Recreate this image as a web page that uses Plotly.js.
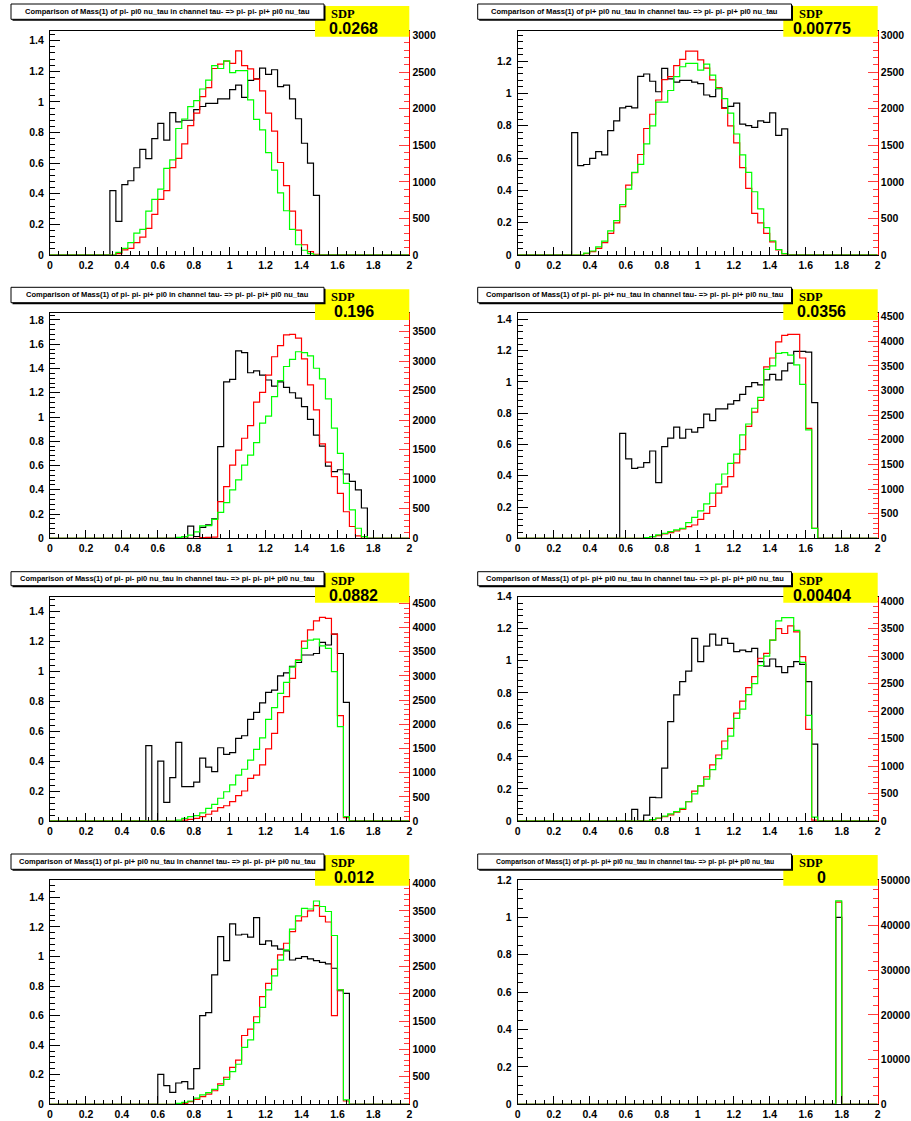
<!DOCTYPE html>
<html><head><meta charset="utf-8">
<script src="https://cdn.plot.ly/plotly-3.0.1.min.js"></script>
<style>html,body{margin:0;padding:0;background:#fff;}#chart{width:911px;height:1121px;}</style>
</head><body><div id="chart"></div>
<script>
// ---- binning: 60 bins of Mass(1) from 0 to 2 ----
const nBins = 60, massMin = 0, massMax = 2;

const panelTitles = [
  "Comparison of Mass(1) of pi- pi0 nu_tau in channel tau- => pi- pi- pi+ pi0 nu_tau",
  "Comparison of Mass(1) of pi+ pi0 nu_tau in channel tau- => pi- pi- pi+ pi0 nu_tau",
  "Comparison of Mass(1) of pi- pi- pi+ pi0 in channel tau- => pi- pi- pi+ pi0 nu_tau",
  "Comparison of Mass(1) of pi- pi- pi+ nu_tau in channel tau- => pi- pi- pi+ pi0 nu_tau",
  "Comparison of Mass(1) of pi- pi- pi0 nu_tau in channel tau- => pi- pi- pi+ pi0 nu_tau",
  "Comparison of Mass(1) of pi- pi+ pi0 nu_tau in channel tau- => pi- pi- pi+ pi0 nu_tau",
  "Comparison of Mass(1) of pi- pi+ pi0 nu_tau in channel tau- => pi- pi- pi+ pi0 nu_tau",
  "Comparison of Mass(1) of pi- pi- pi+ pi0 nu_tau in channel tau- => pi- pi- pi+ pi0 nu_tau"
];
const sdpValues = ["0.0268", "0.00775", "0.196", "0.0356", "0.0882", "0.00404", "0.012", "0"];

// ---- panel 1 ----
const p1Ratio = [0,0,0,0,0,0,0,0,0,0,
 0.42,0.22,0.46,0.485,0.57,0.69,0.63,0.76,0.86,0.75,
 0.93,0.87,0.88,0.88,0.95,0.97,0.99,0.99,1.02,1.02,
 1.08,1.11,1.03,1.14,1.15,1.22,1.18,1.21,1.10,1.11,
 1.02,0.89,0.73,0.60,0.39,0,0,0,0,0,
 0,0,0,0,0,0,0,0,0,0];
const p1Red = [0,0,0,0,0,0,0,0,0,0,
 0,20,70,90,170,245,365,555,760,880,
 1195,1320,1520,1770,1940,2165,2290,2550,2610,2650,
 2620,2790,2590,2545,2405,2245,1940,1695,1265,950,
 600,340,140,45,10,0,0,0,0,0,
 0,0,0,0,0,0,0,0,0,0];
const p1Green = [0,0,0,0,0,0,0,0,0,0,
 0,35,90,170,300,350,600,760,900,1185,
 1300,1730,1860,2030,2110,2270,2390,2590,2550,2655,
 2495,2520,2520,2120,1855,1710,1400,1160,850,605,
 350,140,65,20,0,0,0,0,0,0,
 0,0,0,0,0,0,0,0,0,0];

// ---- panel 2 ----
const p2Ratio = [0,0,0,0,0,0,0,0,0,0.757,
 0.553,0.56,0.598,0.64,0.62,0.77,0.83,0.91,0.92,0.91,
 1.105,1.12,1.075,1.01,1.155,1.09,1.07,1.08,1.08,1.07,
 1.06,0.99,0.98,1.03,0.91,0.92,0.94,0.81,0.80,0.79,
 0.83,0.82,0.88,0.74,0.78,0,0,0,0,0,
 0,0,0,0,0,0,0,0,0,0];
const p2Red = [0,0,0,0,0,0,0,0,0,0,
 0,20,45,90,170,295,440,660,955,1125,
 1375,1730,1925,2120,2400,2440,2590,2675,2790,2790,
 2670,2555,2395,2290,2005,1765,1535,1195,910,570,
 440,295,180,70,15,0,0,0,0,0,
 0,0,0,0,0,0,0,0,0,0];
const p2Green = [0,0,0,0,0,0,0,0,0,0,
 0,25,55,110,190,330,470,690,900,1130,
 1240,1520,1765,2090,2090,2250,2440,2575,2620,2620,
 2530,2610,2460,2280,2140,1940,1655,1370,1130,865,
 630,375,195,75,20,0,0,0,0,0,
 0,0,0,0,0,0,0,0,0,0];

// ---- panel 3 ----
const p3Ratio = [0,0,0,0,0,0,0,0,0,0,
 0,0,0,0,0,0,0,0,0,0,
 0,0,0,0.10,0.015,0.09,0.11,0.16,0.755,1.29,
 1.31,1.545,1.53,1.365,1.38,1.345,1.305,1.255,1.29,1.245,
 1.2,1.155,1.085,0.98,0.85,0.76,0.595,0.55,0.565,0.53,
 0.47,0.40,0.25,0,0,0,0,0,0,0];
const p3Red = [0,0,0,0,0,0,0,0,0,0,
 0,0,0,0,0,0,0,0,0,0,
 0,0,0,0,0,10,15,20,620,875,
 1240,1495,1695,1910,2305,2470,2765,3075,3265,3445,
 3455,3390,3040,2600,2175,1600,1290,1045,760,450,
 200,40,0,0,0,0,0,0,0,0];
const p3Green = [0,0,0,0,0,0,0,0,0,0,
 0,0,0,0,0,0,0,0,0,0,
 0,15,28,55,110,210,215,320,440,605,
 820,990,1240,1410,1620,1950,2070,2400,2670,2910,
 3030,3160,3145,3090,2880,2700,2360,1865,1440,930,
 480,170,28,0,0,0,0,0,0,0];

// ---- panel 4 ----
const p4Ratio = [0,0,0,0,0,0,0,0,0,0,
 0,0,0,0,0,0,0,0.67,0.507,0.447,
 0.454,0.484,0.558,0.356,0.586,0.64,0.71,0.64,0.697,0.678,
 0.707,0.793,0.752,0.827,0.827,0.857,0.88,0.92,0.97,0.995,
 0.98,1.012,1.048,1.012,1.07,1.12,1.195,1.195,1.19,0.867,
 0,0,0,0,0,0,0,0,0,0];
const p4Red = [0,0,0,0,0,0,0,0,0,0,
 0,0,0,0,0,0,0,0,0,0,
 0,15,35,55,90,115,150,190,235,270,
 385,505,645,915,1045,1250,1530,1800,2270,2560,
 2800,3480,3660,3985,4120,4140,4140,3660,2230,200,
 0,0,0,0,0,0,0,0,0,0];
const p4Green = [0,0,0,0,0,0,0,0,0,0,
 0,0,0,0,0,0,0,0,0,0,
 0,15,35,70,100,135,170,200,320,425,
 555,700,915,1100,1305,1520,1710,2100,2320,2640,
 2860,3430,3500,3755,3770,3720,3520,3125,2200,200,
 0,0,0,0,0,0,0,0,0,0];

// ---- panel 5 ----
const p5Ratio = [0,0,0,0,0,0,0,0,0,0,
 0,0,0,0,0,0,0.504,0,0.40,0.125,
 0.29,0.526,0.23,0.23,0.26,0.42,0.36,0.33,0.49,0.445,
 0.457,0.553,0.57,0.68,0.727,0.79,0.86,0.875,0.97,0.99,
 1.035,1.06,1.11,1.11,1.12,1.195,1.177,1.25,1.12,0.793,
 0,0,0,0,0,0,0,0,0,0];
const p5Red = [0,0,0,0,0,0,0,0,0,0,
 0,0,0,0,0,0,0,0,0,0,
 0,0,20,35,55,90,140,205,275,315,
 400,525,620,880,950,1160,1490,1810,2240,2570,
 2950,3330,3720,3950,4140,4210,4190,3865,2180,70,
 0,0,0,0,0,0,0,0,0,0];
const p5Green = [0,0,0,0,0,0,0,0,0,0,
 0,0,0,0,0,0,0,0,0,0,
 0,20,55,90,110,170,260,345,470,605,
 745,950,1070,1260,1480,1720,2100,2345,2640,2865,
 3180,3315,3570,3740,3760,3620,3570,3090,1950,90,
 0,0,0,0,0,0,0,0,0,0];

// ---- panel 6 ----
const p6Ratio = [0,0,0,0,0,0,0,0,0,0,
 0,0,0,0,0,0,0,0,0,0.073,
 0,0.037,0.148,0.145,0.33,0.62,0.787,0.87,0.936,1.14,
 0.995,1.092,1.167,1.098,1.14,1.109,1.057,1.067,1.057,1.078,
 0.995,0.967,1.011,0.963,0.926,0.963,0.995,0.978,0.87,0.48,
 0,0,0,0,0,0,0,0,0,0];
const p6Red = [0,0,0,0,0,0,0,0,0,0,
 0,0,0,0,0,0,0,0,0,0,
 0,0,18,50,80,110,160,210,350,545,
 640,805,1020,1200,1455,1685,1960,2180,2425,2625,
 2960,3050,3290,3500,3410,3550,3440,2990,1665,15,
 0,0,0,0,0,0,0,0,0,0];
const p6Green = [0,0,0,0,0,0,0,0,0,0,
 0,0,0,0,0,0,0,0,0,0,
 0,0,25,55,90,130,170,230,350,495,
 640,760,935,1135,1310,1545,1865,2035,2300,2500,
 2825,3000,3290,3640,3700,3700,3465,2885,1920,70,
 0,0,0,0,0,0,0,0,0,0];

// ---- panel 7 ----
const p7Ratio = [0,0,0,0,0,0,0,0,0,0,
 0,0,0,0,0,0,0,0,0.203,0.126,
 0.081,0.144,0.153,0.104,0.241,0.60,0.62,0.875,1.134,0.972,
 1.22,1.145,1.15,1.13,1.262,1.082,1.105,1.071,1.05,1.037,
 0.976,0.987,0.999,0.983,0.972,0.96,0.95,0.92,0.768,0.75,
 0,0,0,0,0,0,0,0,0,0];
const p7Red = [0,0,0,0,0,0,0,0,0,0,
 0,0,0,0,0,0,0,0,0,0,
 0,0,18,48,90,140,185,245,370,490,
 670,800,1245,1360,1585,1950,2190,2445,2705,2915,
 3125,3320,3395,3500,3595,3400,3300,1605,2070,60,
 0,0,0,0,0,0,0,0,0,0];
const p7Green = [0,0,0,0,0,0,0,0,0,0,
 0,0,0,0,0,0,0,0,0,0,
 0,18,35,60,110,170,210,270,340,450,
 590,725,1030,1165,1480,1755,2070,2325,2610,2795,
 3170,3410,3545,3535,3680,3580,3490,3055,2070,80,
 0,0,0,0,0,0,0,0,0,0];

// ---- panel 8 ----
const p8Ratio = [0,0,0,0,0,0,0,0,0,0,
 0,0,0,0,0,0,0,0,0,0,
 0,0,0,0,0,0,0,0,0,0,
 0,0,0,0,0,0,0,0,0,0,
 0,0,0,0,0,0,0,0,0,0,
 0,0,0,1.0,0,0,0,0,0,0];
const p8Red = [0,0,0,0,0,0,0,0,0,0,
 0,0,0,0,0,0,0,0,0,0,
 0,0,0,0,0,0,0,0,0,0,
 0,0,0,0,0,0,0,0,0,0,
 0,0,0,0,0,0,0,0,0,0,
 0,0,0,45200,0,0,0,0,0,0];
const p8Green = [0,0,0,0,0,0,0,0,0,0,
 0,0,0,0,0,0,0,0,0,0,
 0,0,0,0,0,0,0,0,0,0,
 0,0,0,0,0,0,0,0,0,0,
 0,0,0,0,0,0,0,0,0,0,
 0,0,0,45500,0,0,0,0,0,0];

const ratioSeries = [p1Ratio,p2Ratio,p3Ratio,p4Ratio,p5Ratio,p6Ratio,p7Ratio,p8Ratio];
const redSeries   = [p1Red,p2Red,p3Red,p4Red,p5Red,p6Red,p7Red,p8Red];
const greenSeries = [p1Green,p2Green,p3Green,p4Green,p5Green,p6Green,p7Green,p8Green];

// ---- axis ranges (layout) ----
const leftTop   = [1.463,1.386,1.855,1.438,1.50,1.40,1.517,1.2];
const leftMinor = [0.04,0.04,0.04,0.04,0.04,0.04,0.04,0.05];
const rightTop  = [3063,3064,3811,4567,4638,4079,4060,50150];
const rightDtick= [500,500,500,500,500,500,500,10000];
const rightMinor= [100,100,100,100,100,100,100,2000];

// ---- geometry in pixels ----
const W = 911, H = 1121;
const colX = [[50,409.3],[517.7,877.7]];
const rowY = [[31,255],[313.3,538.3],[596.7,821],[880,1104.3]];
const titleX = [[11,324],[477.7,791.5]];
const titleY = [[4,19.3],[287.3,302.7],[571.7,585.7],[854,869.3]];
const yellowX = [[315,409.3],[783.3,877.7]];
const yellowY = [[6,36.7],[289.3,320],[572.7,602.7],[855,885.7]];
const titleW = [285,287,283,298,295,298,297,279];

const px = v => v / W;
const py = v => 1 - v / H;

const binEdges = Array.from({length: nBins + 1}, (_, i) => +(massMin + i * (massMax - massMin) / nBins).toFixed(6));
const stepY = v => v.concat([v[v.length - 1]]);

const ctx = document.createElement('canvas').getContext('2d');
ctx.font = 'bold 10px "Liberation Sans"';

const tickFont = {family: 'Liberation Sans, Arial, sans-serif', size: 10.5, color: '#000', weight: 'bold'};
const traces = [];
const layout = {
  width: W, height: H, margin: {l:0, r:0, t:0, b:0},
  paper_bgcolor: '#fff', plot_bgcolor: '#fff', showlegend: false,
  shapes: [], annotations: []
};

for (let k = 0; k < 8; k++) {
  const row = Math.floor(k / 2), col = k % 2;
  const n = k + 1;
  const xa = n === 1 ? 'x' : 'x' + n;
  const yl = (2 * n - 1) === 1 ? 'y' : 'y' + (2 * n - 1);
  const yr = 'y' + (2 * n);
  const xKey = n === 1 ? 'xaxis' : 'xaxis' + n;
  const ylKey = (2 * n - 1) === 1 ? 'yaxis' : 'yaxis' + (2 * n - 1);
  const yrKey = 'yaxis' + (2 * n);

  traces.push({x: binEdges, y: stepY(ratioSeries[k]), xaxis: xa, yaxis: yl, type: 'scatter', mode: 'lines',
    line: {shape: 'hv', color: '#000000', width: 1.2}, hoverinfo: 'skip'});
  traces.push({x: binEdges, y: stepY(redSeries[k]), xaxis: xa, yaxis: yr, type: 'scatter', mode: 'lines',
    line: {shape: 'hv', color: '#ff0000', width: 1.2}, hoverinfo: 'skip'});
  traces.push({x: binEdges, y: stepY(greenSeries[k]), xaxis: xa, yaxis: yr, type: 'scatter', mode: 'lines',
    line: {shape: 'hv', color: '#00ff00', width: 1.2}, hoverinfo: 'skip'});

  const dom = [py(rowY[row][1]), py(rowY[row][0])];
  layout[xKey] = {
    domain: [px(colX[col][0]), px(colX[col][1])], anchor: yl, range: [massMin, massMax],
    tick0: 0, dtick: 0.2, ticks: 'inside', ticklen: 8, tickwidth: 1, tickcolor: '#000',
    minor: {dtick: 0.05, ticks: 'inside', ticklen: 4, tickcolor: '#000', tickwidth: 1},
    showline: true, linecolor: '#000', linewidth: 1, mirror: true,
    showgrid: false, zeroline: false, tickfont: tickFont, fixedrange: true
  };
  layout[ylKey] = {
    domain: dom, anchor: xa, range: [0, leftTop[k]], tick0: 0, dtick: 0.2,
    ticks: 'inside', ticklen: 10, tickwidth: 1, tickcolor: '#000',
    minor: {dtick: leftMinor[k], ticks: 'inside', ticklen: 5, tickcolor: '#000', tickwidth: 1},
    showline: true, linecolor: '#000', linewidth: 1, showgrid: false, zeroline: false,
    tickfont: tickFont, ticklabelstandoff: 3, fixedrange: true
  };
  layout[yrKey] = {
    domain: dom, anchor: xa, overlaying: yl, side: 'right', range: [0, rightTop[k]], tick0: 0,
    dtick: rightDtick[k], tickformat: 'd',
    ticks: 'inside', ticklen: 10, tickwidth: 1, tickcolor: '#ff4040',
    minor: {dtick: rightMinor[k], ticks: 'inside', ticklen: 5, tickcolor: '#ff4040', tickwidth: 1},
    showline: true, linecolor: '#ff0000', linewidth: 1, showgrid: false, zeroline: false,
    tickfont: tickFont, fixedrange: true
  };

  // yellow SDP box
  layout.shapes.push({type: 'rect', xref: 'paper', yref: 'paper', layer: 'above',
    x0: px(yellowX[col][0]), x1: px(yellowX[col][1]), y0: py(yellowY[row][1]), y1: py(yellowY[row][0]),
    fillcolor: '#ffff00', line: {width: 0}});
  // title box shadow + box
  layout.shapes.push({type: 'rect', xref: 'paper', yref: 'paper', layer: 'above',
    x0: px(titleX[col][0] + 1.5), x1: px(titleX[col][1] + 1.5), y0: py(titleY[row][1] + 1.5), y1: py(titleY[row][0] + 1.5),
    fillcolor: '#000', line: {width: 0}});
  layout.shapes.push({type: 'rect', xref: 'paper', yref: 'paper', layer: 'above',
    x0: px(titleX[col][0]), x1: px(titleX[col][1]), y0: py(titleY[row][1]), y1: py(titleY[row][0]),
    fillcolor: '#fff', line: {width: 1, color: '#000'}});

  const tw = ctx.measureText(panelTitles[k]).width || 1;
  const tSize = Math.max(5, Math.min(8, 10 * titleW[k] / tw));
  layout.annotations.push({xref: 'paper', yref: 'paper', showarrow: false,
    x: px((titleX[col][0] + titleX[col][1]) / 2), y: py((titleY[row][0] + titleY[row][1]) / 2),
    xanchor: 'center', yanchor: 'middle', text: panelTitles[k],
    font: {family: 'Liberation Sans, Arial, sans-serif', size: tSize, color: '#000', weight: 'bold'}});
  layout.annotations.push({xref: 'paper', yref: 'paper', showarrow: false,
    x: px(yellowX[col][0] + 14), y: py(yellowY[row][0] + 8), xanchor: 'left', yanchor: 'middle',
    text: 'SDP', font: {family: 'Liberation Serif, Times New Roman, serif', size: 12.5, color: '#000', weight: 'bold'}});
  layout.annotations.push({xref: 'paper', yref: 'paper', showarrow: false,
    x: px(yellowX[col][0] + 38.5), y: py(yellowY[row][0] + 22.5), xanchor: 'center', yanchor: 'middle',
    text: sdpValues[k], font: {family: 'Liberation Sans, Arial, sans-serif', size: 16, color: '#000', weight: 'bold'}});
}

Plotly.newPlot('chart', traces, layout, {staticPlot: true, displayModeBar: false});
</script></body></html>
